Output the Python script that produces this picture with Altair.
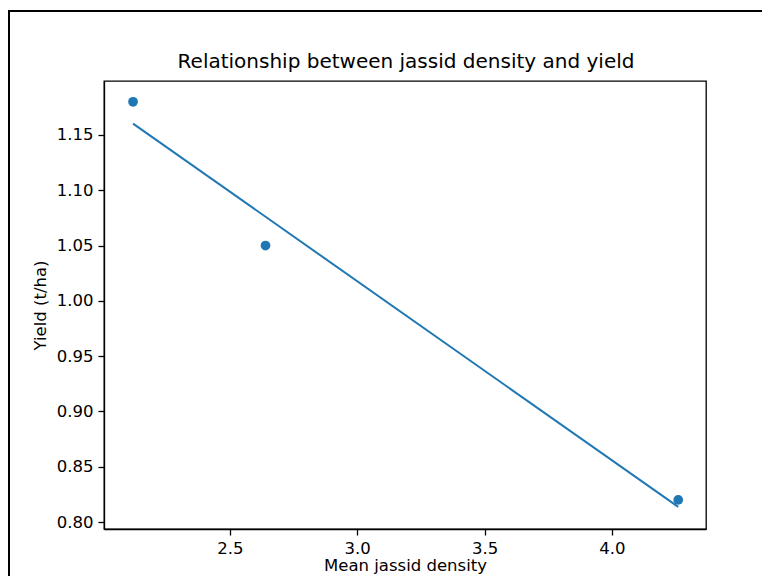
import altair as alt
import pandas as pd

# Data
density = [2.12, 2.64, 4.26]
yield_tha = [1.18, 1.05, 0.82]

x_ticks = [2.5, 3.0, 3.5, 4.0]
y_ticks = [0.80, 0.85, 0.90, 0.95, 1.00, 1.05, 1.10, 1.15]

chart_title = "Relationship between jassid density and yield"

df = pd.DataFrame({"density": density, "yield": yield_tha})

BLUE = "#1f77b4"
FONT = "DejaVu Sans"

x_enc = alt.X(
    "density:Q",
    title="Mean jassid density",
    scale=alt.Scale(domain=[2.006, 4.369], nice=False, zero=False),
    axis=alt.Axis(values=x_ticks, format=".1f", titlePadding=1),
)
y_enc = alt.Y(
    "yield:Q",
    title="Yield (t/ha)",
    scale=alt.Scale(domain=[0.7937, 1.1988], nice=False, zero=False),
    axis=alt.Axis(values=y_ticks, format=".2f", titlePadding=8),
)

base = alt.Chart(df)

points = base.mark_circle(color=BLUE, size=95, opacity=1).encode(x=x_enc, y=y_enc)

fit = (
    base.transform_regression("density", "yield")
    .mark_line(color=BLUE, strokeWidth=2)
    .encode(x=x_enc, y=y_enc)
)

frame = (
    alt.Chart(alt.Data(values=[{}]))
    .mark_rect(fillOpacity=0, stroke="black", strokeWidth=2)
    .encode(
        x=alt.value(-95),
        y=alt.value(-70),
        x2=alt.value(700),
        y2=alt.value(600),
    )
)

title_text = (
    alt.Chart(alt.Data(values=[{"t": chart_title}]))
    .mark_text(
        font=FONT,
        fontSize=20,
        color="black",
        align="center",
        baseline="alphabetic",
    )
    .encode(
        text="t:N",
        x=alt.value(302),
        y=alt.value(-13),
    )
)

chart = (
    alt.layer(frame, fit, points, title_text)
    .properties(
        width=602,
        height=448,
        padding={"left": 96, "top": 73, "right": 56, "bottom": 47},
        autosize=alt.AutoSizeParams(type="none"),
        background="white",
    )
    .configure_view(stroke="black", strokeWidth=1.3)
    .configure_axis(
        grid=False,
        domainColor="black",
        domainWidth=1.3,
        tickColor="black",
        tickWidth=1.3,
        tickSize=6,
        labelPadding=5,
        labelFont=FONT,
        labelFontSize=16.5,
        labelColor="black",
        titleFont=FONT,
        titleFontSize=16.5,
        titleFontWeight="normal",
        titleColor="black",
    )
)

chart.save("out.html", embed_options={"renderer": "svg", "actions": False})
